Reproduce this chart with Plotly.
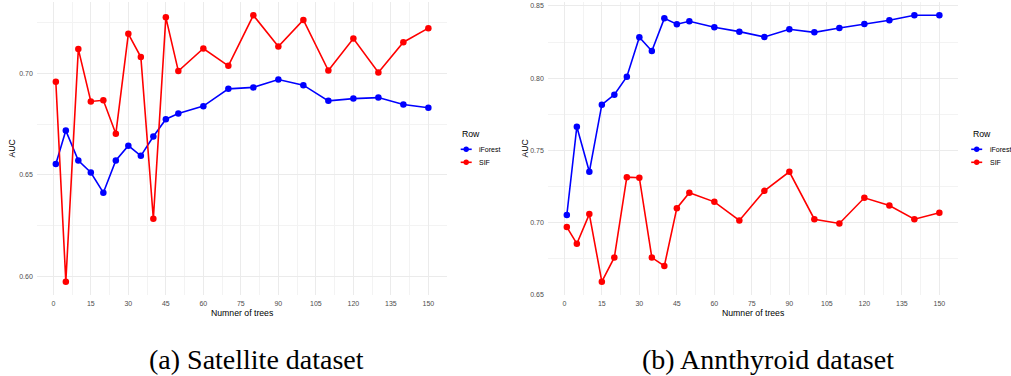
import plotly.graph_objects as go

trees = [1, 5, 10, 15, 20, 25, 30, 35, 40, 45, 50, 60, 70, 80, 90, 100, 110, 120, 130, 140, 150]

sat_iforest = [0.6554, 0.6718, 0.6571, 0.6512, 0.6413, 0.6571, 0.6644, 0.6594, 0.6689, 0.6774, 0.6802,
               0.6838, 0.6923, 0.6930, 0.6969, 0.6941, 0.6864, 0.6875, 0.6880, 0.6846, 0.6830]
sat_sif = [0.6958, 0.5976, 0.7118, 0.6861, 0.6867, 0.6702, 0.7193, 0.7079, 0.6285, 0.7274, 0.7010,
           0.7121, 0.7036, 0.7284, 0.7131, 0.7261, 0.7013, 0.7170, 0.7003, 0.7152, 0.7221]

ann_iforest = [0.7052, 0.7663, 0.7351, 0.7816, 0.7885, 0.8010, 0.8283, 0.8188, 0.8414, 0.8373, 0.8394,
               0.8352, 0.8322, 0.8285, 0.8338, 0.8317, 0.8347, 0.8375, 0.8401, 0.8435, 0.8435]
ann_sif = [0.6968, 0.6853, 0.7058, 0.6590, 0.6758, 0.7314, 0.7310, 0.6757, 0.6699, 0.7099, 0.7206,
           0.7143, 0.7014, 0.7219, 0.7351, 0.7023, 0.6993, 0.7171, 0.7118, 0.7023, 0.7067]

x_ticks = [0, 15, 30, 45, 60, 75, 90, 105, 120, 135, 150]
captions = ["(a) Satellite dataset", "(b) Annthyroid dataset"]
x_title = "Numner of trees"
y_title = "AUC"
legend_title = "Row"
series_names = ["iForest", "SIF"]
series_colors = ["#0000FF", "#FF0000"]

W, H = 1011, 376
SANS = "Liberation Sans, Arial, sans-serif"


def px_x(v):
    return v / W


def px_y(v):
    return 1 - v / H


fig = go.Figure()

datasets = [
    (sat_iforest, sat_sif, "x", "y"),
    (ann_iforest, ann_sif, "x2", "y2"),
]
for ifo, sif, xa, ya in datasets:
    for name, vals, col in zip(series_names, [ifo, sif], series_colors):
        fig.add_trace(go.Scatter(
            x=trees, y=vals, name=name, mode="lines+markers",
            line=dict(color=col, width=1.6),
            marker=dict(color=col, size=6.5),
            xaxis=xa, yaxis=ya, showlegend=False,
        ))


def yrange(a, b):
    lo = min(min(a), min(b))
    hi = max(max(a), max(b))
    d = (hi - lo) * 0.05
    return [lo - d, hi + d]


xr = [min(trees) - 0.05 * (max(trees) - min(trees)), max(trees) + 0.05 * (max(trees) - min(trees))]

grid = "#EBEBEB"
minor_grid = "#F3F3F3"
axis_common = dict(
    showline=False, zeroline=False, showgrid=True, gridcolor=grid, gridwidth=1,
    ticks="outside", ticklen=2, tickcolor="rgba(0,0,0,0)",
    tickfont=dict(family=SANS, size=7, color="#4D4D4D"),
)

dom_y = [px_y(295), px_y(2)]
fig.update_layout(
    width=W, height=H, margin=dict(l=0, r=0, t=0, b=0, autoexpand=False),
    paper_bgcolor="white", plot_bgcolor="white", showlegend=False,
    xaxis=dict(domain=[px_x(37.2), px_x(447)], range=xr, tickvals=x_ticks, anchor="y",
               minor=dict(dtick=7.5, tick0=0, showgrid=True, gridcolor=minor_grid, gridwidth=0.6),
               **axis_common),
    yaxis=dict(domain=dom_y, range=yrange(sat_iforest, sat_sif), dtick=0.05, tick0=0, tickformat=".2f",
               anchor="x",
               minor=dict(dtick=0.025, tick0=0, showgrid=True, gridcolor=minor_grid, gridwidth=0.6),
               **axis_common),
    xaxis2=dict(domain=[px_x(548.2), px_x(958)], range=xr, tickvals=x_ticks, anchor="y2",
                minor=dict(dtick=7.5, tick0=0, showgrid=True, gridcolor=minor_grid, gridwidth=0.6),
                **axis_common),
    yaxis2=dict(domain=dom_y, range=yrange(ann_iforest, ann_sif), dtick=0.05, tick0=0, tickformat=".2f",
                anchor="x2",
                minor=dict(dtick=0.025, tick0=0, showgrid=True, gridcolor=minor_grid, gridwidth=0.6),
                **axis_common),
)

annotations = []
shapes = []
for cx, cap in zip([256, 767.5], captions):
    annotations.append(dict(text=cap, x=px_x(cx), y=0, xref="paper", yref="paper",
                            showarrow=False, xanchor="center", yanchor="bottom", borderpad=0,
                            font=dict(family="Liberation Serif, Times New Roman, serif", size=28, color="#000000")))
for cx in [242, 753]:
    annotations.append(dict(text=x_title, x=px_x(cx), y=px_y(312.7), xref="paper", yref="paper",
                            showarrow=False, xanchor="center", yanchor="middle",
                            font=dict(family=SANS, size=8.7, color="#000000")))
for cx in [12, 525]:
    annotations.append(dict(text=y_title, x=px_x(cx), y=px_y(148.5), xref="paper", yref="paper",
                            showarrow=False, xanchor="center", yanchor="middle", textangle=-90,
                            font=dict(family=SANS, size=8.7, color="#000000")))

# legends (one per panel), ggplot-style compact layout
for lx in [460, 970.5]:
    annotations.append(dict(text=legend_title, x=px_x(lx), y=px_y(134), xref="paper", yref="paper",
                            showarrow=False, xanchor="left", yanchor="middle",
                            font=dict(family=SANS, size=8.7, color="#000000")))
    for i, (name, col) in enumerate(zip(series_names, series_colors)):
        ky = 149.3 + i * 13
        kx0, kx1 = lx + 0.7, lx + 11.7
        shapes.append(dict(type="line", xref="paper", yref="paper",
                           x0=px_x(kx0), x1=px_x(kx1), y0=px_y(ky), y1=px_y(ky),
                           line=dict(color=col, width=1.6)))
        cxm = (kx0 + kx1) / 2
        r = 2.7
        shapes.append(dict(type="circle", xref="paper", yref="paper",
                           x0=px_x(cxm - r), x1=px_x(cxm + r), y0=px_y(ky + r), y1=px_y(ky - r),
                           fillcolor=col, line=dict(color=col, width=0)))
        annotations.append(dict(text=name, x=px_x(lx + 17), y=px_y(ky), xref="paper", yref="paper",
                                showarrow=False, xanchor="left", yanchor="middle",
                                font=dict(family=SANS, size=7, color="#000000")))

fig.update_layout(annotations=annotations, shapes=shapes)

fig.write_html("out.html")
